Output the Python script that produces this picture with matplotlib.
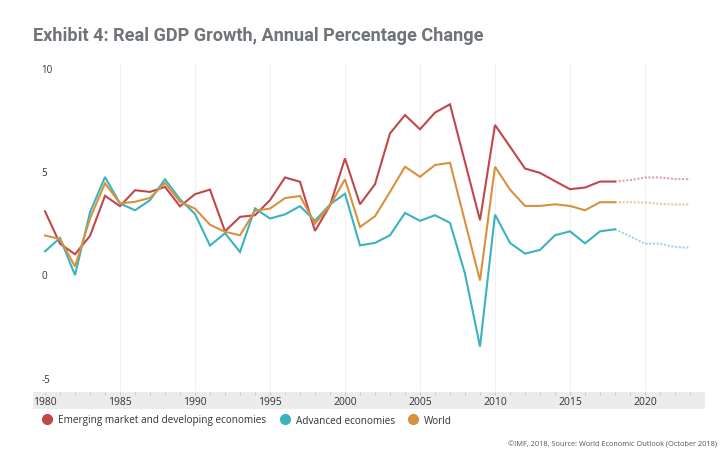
import matplotlib
matplotlib.use("Agg")
import matplotlib.pyplot as plt
from matplotlib.lines import Line2D

# ---------------- data ----------------
years = list(range(1980, 2019))
proj_years = list(range(2018, 2024))

emde = [3.12, 1.55, 1.04, 1.93, 3.87, 3.37, 4.14, 4.06, 4.30, 3.36,
        3.95, 4.17, 2.15, 2.85, 2.93, 3.66, 4.76, 4.55, 2.17, 3.40,
        5.68, 3.46, 4.43, 6.89, 7.78, 7.09, 7.90, 8.30, 5.50, 2.69,
        7.30, 6.25, 5.19, 4.98, 4.58, 4.19, 4.27, 4.56, 4.56]
advanced = [1.18, 1.83, 0.03, 3.07, 4.78, 3.50, 3.17, 3.66, 4.67, 3.70,
            2.99, 1.46, 2.06, 1.15, 3.26, 2.77, 2.97, 3.37, 2.66, 3.45,
            3.97, 1.47, 1.59, 1.96, 3.04, 2.66, 2.93, 2.56, 0.10, -3.43,
            2.96, 1.59, 1.07, 1.25, 1.96, 2.15, 1.57, 2.15, 2.25]
world = [1.95, 1.78, 0.45, 2.77, 4.48, 3.50, 3.58, 3.77, 4.49, 3.58,
         3.25, 2.47, 2.13, 1.96, 3.15, 3.25, 3.76, 3.86, 2.52, 3.40,
         4.67, 2.36, 2.88, 4.06, 5.28, 4.79, 5.36, 5.47, 2.62, -0.23,
         5.28, 4.17, 3.38, 3.38, 3.46, 3.38, 3.17, 3.56, 3.56]

emde_proj = [4.56, 4.63, 4.76, 4.76, 4.68, 4.68]
advanced_proj = [2.25, 1.91, 1.55, 1.55, 1.39, 1.36]
world_proj = [3.56, 3.56, 3.55, 3.48, 3.45, 3.45]

series_names = ["Emerging market and developing economies", "Advanced economies", "World"]
colors = ["#c0474a", "#3bb3bf", "#d8913e"]
ytick_vals = [10, 5, 0, -5]
xtick_vals = [1980, 1985, 1990, 1995, 2000, 2005, 2010, 2015, 2020]

title = "Exhibit 4: Real GDP Growth, Annual Percentage Change"
source = "©IMF, 2018, Source: World Economic Outlook (October 2018)"

# ---------------- figure ----------------
plt.rcParams['font.family'] = ['Open Sans', 'DejaVu Sans']
W, H = 722, 460
fig = plt.figure(figsize=(W / 100, H / 100), dpi=100)

def frac(x0, y0, x1, y1):
    return [x0 / W, 1 - y1 / H, (x1 - x0) / W, (y1 - y0) / H]

XMIN, XMAX = 1979.2, 2024.0
ax = fig.add_axes(frac(33, 64, 705, 392))
ax.set_xlim(XMIN, XMAX)
ax.set_ylim(-5.58, 10.3)
for s in ax.spines.values():
    s.set_visible(False)
ax.set_xticks([])
ax.set_yticks([])

for xv in xtick_vals[1:]:
    ax.axvline(xv, color="#f0f0f0", lw=0.8, zorder=0)

for yv in ytick_vals:
    ax.text(1979.75, yv, str(yv), ha="left", va="center",
            fontsize=7, color="#333333")

for vals, pvals, c in zip([emde, advanced, world],
                          [emde_proj, advanced_proj, world_proj], colors):
    ax.plot(years, vals, color=c, lw=1.5, solid_joinstyle="miter", zorder=3)
    ax.plot(proj_years, pvals, color=c, lw=1.5, ls=(0, (1, 0.8)), alpha=0.5, zorder=3)

# x-axis band
axb = fig.add_axes(frac(33, 393, 705, 410))
axb.set_xlim(XMIN, XMAX)
axb.set_ylim(0, 1)
axb.set_facecolor("#ececec")
for s in axb.spines.values():
    s.set_visible(False)
axb.set_yticks([])
axb.set_xticks(list(range(1980, 2024)))
axb.tick_params(axis="x", direction="in", length=2, color="#c4c4c4", width=0.6,
                labelbottom=False, top=True, bottom=False)
for xv in xtick_vals:
    axb.text(xv, 0.45, str(xv), ha="center", va="center", fontsize=7.5, color="#333333")

# title
fig.text(33 / W, 1 - 36 / H, title, ha="left", va="center", fontsize=13.1,
         fontweight="bold", color="#6f7479", family=["Roboto", "DejaVu Sans"])

# legend
handles = [Line2D([], [], marker="o", ls="", markersize=7, markerfacecolor=c,
                  markeredgecolor=c) for c in colors]
fig.legend(handles, series_names, loc="center left", bbox_to_anchor=(30 / W, 1 - 421 / H),
           ncol=3, frameon=False, fontsize=7.2, handletextpad=0.3, columnspacing=1.05,
           labelcolor="#333333", handlelength=1.6)

fig.text(717 / W, 1 - 445 / H, source, ha="right", va="center", fontsize=5.3, color="#555555")

fig.savefig("out.png", dpi=100)
